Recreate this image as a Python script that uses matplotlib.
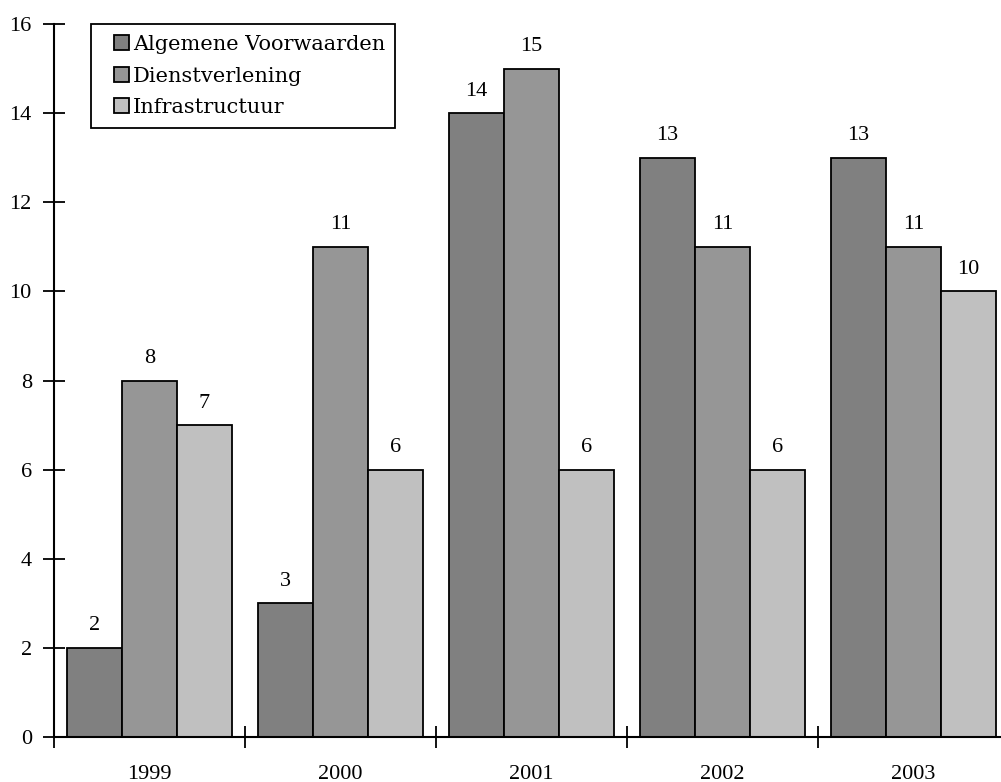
import matplotlib
matplotlib.use("Agg")
import matplotlib.pyplot as plt
import numpy as np
from matplotlib.patches import Patch, Rectangle

years = ["1999", "2000", "2001", "2002", "2003"]
series_names = ["Algemene Voorwaarden", "Dienstverlening", "Infrastructuur"]
algemene = [2, 3, 14, 13, 13]
dienst = [8, 11, 15, 11, 11]
infra = [7, 6, 6, 6, 10]
colors = ["#808080", "#969696", "#c0c0c0"]

plt.rcParams['font.family'] = ['Liberation Serif', 'DejaVu Serif']
FS = 16

fig = plt.figure(figsize=(10.01, 7.82), dpi=100)
W, H = 1001, 782
ax = fig.add_axes([54 / W, 45 / H, 955 / W, 713 / H])

n = len(years)
bw = 0.288
x = np.arange(n) + 0.5
for k, (vals, c) in enumerate(zip([algemene, dienst, infra], colors)):
    pos = x + (k - 1) * bw
    ax.bar(pos, vals, width=bw, color=c, edgecolor="black", linewidth=1.3, zorder=2)
    for p, v in zip(pos, vals):
        ax.annotate(str(v), (p, v), xytext=(0, 9), textcoords="offset points",
                    ha="center", va="bottom", fontsize=FS)

ax.set_xlim(0, n)
ax.set_ylim(0, 16)
ax.set_yticks(np.arange(0, 17, 2))
ax.set_yticklabels([str(v) for v in range(0, 17, 2)], fontsize=FS)
ax.set_xticks(np.arange(0, n + 1))
ax.set_xticklabels([])
ax.set_xticks(x, minor=True)
ax.set_xticklabels(years, minor=True, fontsize=FS)
ax.tick_params(axis="x", which="minor", length=0, pad=20)
ax.tick_params(axis="x", which="major", direction="inout", length=16, width=1.3)
ax.tick_params(axis="y", direction="inout", length=16, width=1.3, pad=8)
for s in ["top", "right"]:
    ax.spines[s].set_visible(False)
for s in ["left", "bottom"]:
    ax.spines[s].set_linewidth(1.5)
    ax.spines[s].set_zorder(3)

# legend frame drawn separately
fig.patches.append(Rectangle((91 / W, 1 - 128 / H), (395 - 91) / W, (128 - 24) / H,
                             transform=fig.transFigure, facecolor="white",
                             edgecolor="black", linewidth=1.3, zorder=5))
handles = [Patch(facecolor=c, edgecolor="black", linewidth=1.3) for c in colors]
leg = fig.legend(handles, series_names, loc="upper left",
                 bbox_to_anchor=(114 / W, 1 - 35 / H),
                 prop={"family": ["DejaVu Serif"], "size": 15},
                 frameon=False,
                 handlelength=0.7, handleheight=0.7, handletextpad=0.2,
                 labelspacing=0.6, borderpad=0.0, borderaxespad=0)
leg.set_zorder(6)

fig.savefig("out.png", dpi=100)
